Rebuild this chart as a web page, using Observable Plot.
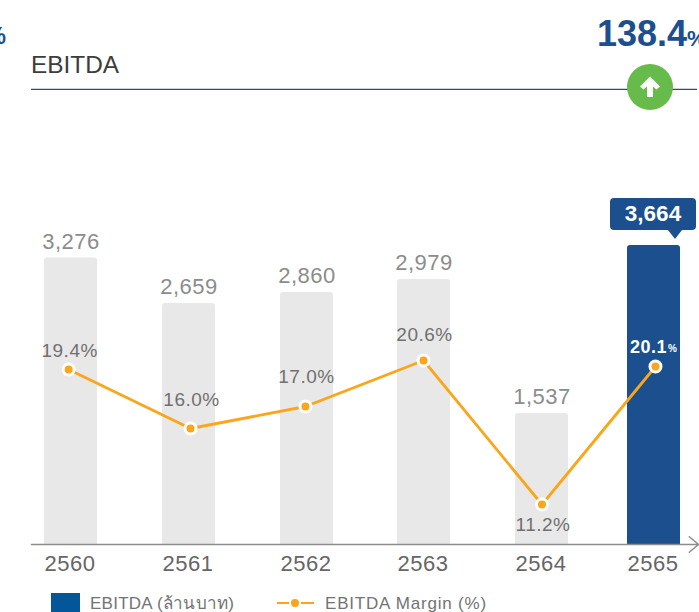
<!DOCTYPE html>
<html>
<head>
<meta charset="utf-8">
<script src="https://cdn.jsdelivr.net/npm/d3@7"></script>
<script src="https://cdn.jsdelivr.net/npm/@observablehq/plot@0.6"></script>
<style>
html,body{margin:0;padding:0;background:#fff;overflow:hidden}
#page{position:relative;width:699px;height:612px;overflow:hidden;font-family:"Liberation Sans",Arial,sans-serif}
#page svg{position:absolute;left:0;top:0;background:transparent}
#page #charts svg text{letter-spacing:.5px}
.a{position:absolute;white-space:nowrap;line-height:1}
</style>
</head>
<body>
<div id="page">
  <div id="charts"></div>
  <div class="a" style="left:-24px;top:25px;font-size:23px;font-weight:bold;color:#1b4f8e;width:30px;text-align:right">%</div>
  <div class="a" style="left:31px;top:53px;font-size:24.4px;color:#3d3d3d">EBITDA</div>
  <div class="a" style="left:31px;top:88px;width:666px;height:1px;background:#c8d2e2"></div>
  <div class="a" style="left:31px;top:89px;width:666px;height:1px;background:#1f4f8f"></div>
  <div class="a" style="left:597px;top:16px;font-size:36px;font-weight:bold;color:#1b4f8e">138.4<span style="font-size:22px">%</span></div>
  <div class="a" style="left:627px;top:64px;width:46px;height:46px;border-radius:50%;background:#67bb4b"></div>
  <svg class="a" style="left:627px;top:64px" width="46" height="46" viewBox="0 0 46 46"><path d="M23 12.500L33 22.500L29.500 25.500L26 22.500V33H20V22.500L16.500 25.500L13 22.500Z" fill="#fff"/></svg>
  <div class="a" style="left:610px;top:198px;width:86px;height:32px;border-radius:4px;background:#1b4f8e"></div>
  <div class="a" style="left:668px;top:230px;width:0;height:0;border-left:7px solid transparent;border-right:7px solid transparent;border-top:9px solid #1b4f8e"></div>
  <div class="a" style="left:610px;top:203px;width:86px;text-align:center;font-size:22.500px;font-weight:bold;color:#fff">3,664</div>
  <div class="a" style="left:51px;top:593px;width:29px;height:19px;background:#04569b"></div>
  <div class="a" style="left:90px;top:595px;font-size:17px;color:#737373;letter-spacing:.25px;font-family:'Liberation Sans','Noto Sans',sans-serif">EBITDA (ล้านบาท)</div>
  <div class="a" style="left:277px;top:602px;width:37px;height:2px;background:#f9a61a"></div>
  <div class="a" style="left:289px;top:599px;width:12px;height:8px;background:#fff"></div>
  <div class="a" style="left:291px;top:599px;width:8px;height:8px;border-radius:50%;background:#f9a61a"></div>
  <div class="a" style="left:325px;top:595px;font-size:17px;color:#737373;letter-spacing:.8px">EBITDA Margin (%)</div>
</div>
<script>
const years = [2560, 2561, 2562, 2563, 2564, 2565];
const ebitda = [3276, 2659, 2860, 2979, 1537, 3664];
const ebitdaLabels = ["3,276", "2,659", "2,860", "2,979", "1,537", "3,664"];
const margin = [19.4, 16.0, 17.0, 20.6, 11.2, 20.1];
const marginLabels = ["19.4%", "16.0%", "17.0%", "20.6%", "11.2%", "20.1"];
const lineYears = [2559.98, 2561.013, 2561.987, 2562.996, 2564, 2565.013];
const marginLabelDy = [-19, -29, -30, -26, 20, -19];

const xScale = {
  type: "linear",
  domain: [2559.66, 2560, 2561, 2562, 2563, 2564, 2565, 2565.39],
  range: [31, 70.5, 188.5, 306.5, 423.5, 541.5, 653.5, 698]
};
const size = {width: 699, height: 612, marginTop: 0, marginRight: 0, marginBottom: 0, marginLeft: 0};
const font = {fontFamily: "'Liberation Sans', Arial, sans-serif"};

const bars = years.map((year, i) => ({year, value: ebitda[i], label: ebitdaLabels[i], current: i === years.length - 1}));
const points = years.map((year, i) => ({year: lineYears[i], value: margin[i], label: marginLabels[i], dy: marginLabelDy[i], current: i === years.length - 1}));
const last = points[points.length - 1];

const barPlot = Plot.plot({
  ...size,
  style: {background: "transparent", ...font},
  x: {...xScale, axis: null},
  y: {type: "linear",
      domain: [0, 1537, 2659, 2860, 2979, 3276, 3664],
      range: [544, 413, 303, 292, 279, 257.5, 245],
      axis: null},
  marks: [
    Plot.rect(bars, {
      x1: "year", x2: "year", y1: 0, y2: "value",
      insetLeft: -26.5, insetRight: -26.5,
      ry2: 3, rx: 3,
      fill: d => d.current ? "#1b4f8e" : "#e9e8e9"
    }),
    Plot.text(bars.filter(d => !d.current), {
      x: "year", y: "value", text: "label", dy: -16.5, dx: 0,
      fontSize: 22, fill: "#8c8c8c", ...font
    }),
    Plot.text(bars, {
      x: "year", y: 0, text: d => String(d.year), dy: 19.5, dx: -1,
      fontSize: 22, fill: "#666", ...font
    }),
    Plot.arrow([{}], {
      x1: () => xScale.domain[0], x2: () => xScale.domain[7],
      y1: () => 0, y2: () => 0,
      bend: 0, stroke: "#8c8c8c", strokeWidth: 1.5, headLength: 12, headAngle: 80
    })
  ]
});

const linePlot = Plot.plot({
  ...size,
  style: {background: "transparent", ...font},
  x: {...xScale, axis: null},
  y: {type: "linear",
      domain: [11.2, 16, 17, 19.4, 20.1, 20.6],
      range: [504, 428, 406, 369, 366, 360],
      axis: null},
  marks: [
    Plot.line(points, {x: "year", y: "value", stroke: "#f9a61a", strokeWidth: 2.8}),
    Plot.dot(points, {x: "year", y: "value", r: 5.5, fill: "#f9a61a", stroke: "#fff", strokeWidth: 3}),
    ...points.map(d => Plot.text([d], {
      x: "year", y: "value", text: "label", dy: d.dy,
      fontSize: d.current ? 18 : 19,
      fontWeight: d.current ? "bold" : "normal",
      textAnchor: d.current ? "end" : "middle",
      dx: d.current ? 11.5 : 1,
      fill: d.current ? "#fff" : "#707070", ...font
    })),
    Plot.text([last], {
      x: "year", y: "value", text: () => "%", dy: -18, dx: 12.5,
      textAnchor: "start", fontSize: 10, fontWeight: "bold", fill: "#fff", ...font
    })
  ]
});

document.getElementById("charts").append(barPlot, linePlot);
</script>
</body>
</html>
